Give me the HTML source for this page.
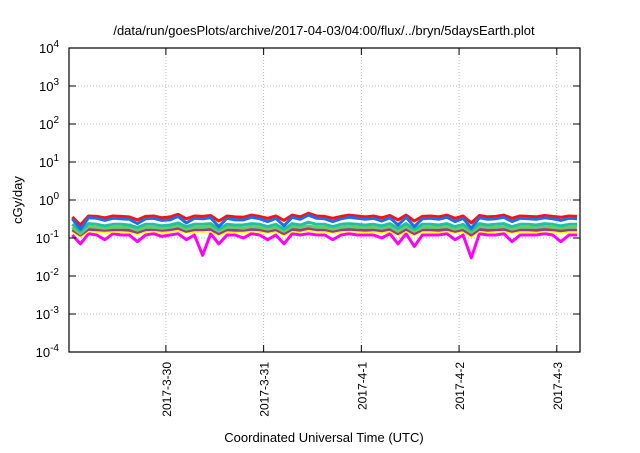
<!DOCTYPE html>
<html><head><meta charset="utf-8"><style>
body{margin:0;background:#fff;font-family:"Liberation Sans",sans-serif}
svg text{font-family:"Liberation Sans",sans-serif;fill:#000}
</style></head><body>
<svg id="c" width="640" height="448">
<text x="324" y="35" text-anchor="middle" font-size="13">/data/run/goesPlots/archive/2017-04-03/04:00/flux/../bryn/5daysEarth.plot</text>
<text transform="translate(22,200) rotate(-90)" text-anchor="middle" font-size="13">cGy/day</text>
<text x="324" y="442" text-anchor="middle" font-size="13">Coordinated Universal Time (UTC)</text>
<g id="grid"></g><g id="series"></g><g id="axes"></g>
</svg>
<script>
const yTickExps=[4,3,2,1,0,-1,-2,-3,-4];
const xTickLabels=["2017-3-30","2017-3-31","2017-4-1","2017-4-2","2017-4-3"];
const xTickHours=[24,48,72,96,120];
const times=[1,3,5,7,9,11,13,15,17,19,21,23,25,27,29,31,33,35,37,39,41,43,45,47,49,51,53,55,57,59,61,63,65,67,69,71,73,75,77,79,81,83,85,87,89,91,93,95,97,99,101,103,105,107,109,111,113,115,117,119,121,123,125];
const redVals=[0.36,0.22,0.38,0.37,0.34,0.38,0.37,0.36,0.3,0.37,0.38,0.34,0.36,0.42,0.32,0.38,0.37,0.39,0.28,0.38,0.36,0.35,0.4,0.37,0.33,0.38,0.29,0.4,0.36,0.45,0.38,0.37,0.33,0.37,0.4,0.38,0.36,0.38,0.34,0.39,0.3,0.4,0.28,0.37,0.38,0.36,0.4,0.33,0.38,0.25,0.39,0.36,0.37,0.4,0.33,0.38,0.37,0.36,0.39,0.37,0.35,0.38,0.37];
const blueVals=[0.32,0.17,0.34,0.33,0.29,0.33,0.32,0.31,0.24,0.32,0.33,0.29,0.3,0.37,0.25,0.33,0.32,0.34,0.2,0.33,0.3,0.3,0.35,0.32,0.27,0.33,0.21,0.35,0.31,0.4,0.33,0.32,0.27,0.32,0.35,0.33,0.31,0.33,0.28,0.34,0.22,0.35,0.2,0.32,0.33,0.31,0.35,0.27,0.33,0.18,0.34,0.31,0.32,0.35,0.27,0.33,0.32,0.31,0.34,0.32,0.29,0.33,0.32];
const tealVals=[0.23,0.15,0.24,0.23,0.21,0.23,0.23,0.22,0.19,0.23,0.23,0.21,0.22,0.25,0.2,0.23,0.23,0.24,0.17,0.23,0.22,0.22,0.24,0.23,0.2,0.23,0.17,0.24,0.22,0.26,0.23,0.23,0.2,0.23,0.24,0.23,0.22,0.23,0.21,0.24,0.18,0.24,0.17,0.23,0.23,0.22,0.24,0.2,0.23,0.16,0.24,0.22,0.23,0.24,0.2,0.23,0.23,0.22,0.24,0.23,0.21,0.23,0.23];
const greenVals=[0.19,0.13,0.2,0.19,0.18,0.19,0.19,0.19,0.16,0.19,0.19,0.18,0.19,0.21,0.17,0.19,0.19,0.2,0.15,0.19,0.19,0.18,0.2,0.19,0.17,0.19,0.15,0.2,0.19,0.21,0.19,0.19,0.17,0.19,0.2,0.19,0.19,0.19,0.18,0.2,0.15,0.2,0.15,0.19,0.19,0.19,0.2,0.17,0.19,0.14,0.2,0.19,0.19,0.2,0.17,0.19,0.19,0.19,0.2,0.19,0.18,0.19,0.19];
const purpleVals=[0.165,0.12,0.17,0.165,0.16,0.165,0.165,0.16,0.14,0.165,0.17,0.16,0.165,0.18,0.15,0.165,0.165,0.17,0.13,0.165,0.16,0.16,0.17,0.165,0.15,0.165,0.13,0.17,0.16,0.18,0.165,0.165,0.15,0.165,0.17,0.165,0.16,0.165,0.155,0.17,0.13,0.17,0.13,0.165,0.165,0.16,0.17,0.15,0.165,0.12,0.17,0.16,0.165,0.17,0.15,0.165,0.165,0.16,0.17,0.165,0.155,0.165,0.165];
const yellowVals=[0.15,0.11,0.155,0.15,0.145,0.15,0.15,0.148,0.13,0.15,0.155,0.145,0.15,0.16,0.14,0.15,0.15,0.155,0.12,0.15,0.148,0.146,0.155,0.15,0.14,0.15,0.12,0.155,0.148,0.16,0.15,0.15,0.14,0.15,0.155,0.15,0.148,0.15,0.142,0.155,0.12,0.155,0.12,0.15,0.15,0.148,0.155,0.14,0.15,0.11,0.155,0.148,0.15,0.155,0.14,0.15,0.15,0.148,0.155,0.15,0.142,0.15,0.15];
const magentaVals=[0.12,0.07,0.13,0.12,0.09,0.13,0.12,0.12,0.08,0.12,0.13,0.11,0.12,0.13,0.09,0.12,0.035,0.13,0.07,0.12,0.12,0.1,0.13,0.12,0.09,0.12,0.07,0.13,0.12,0.13,0.12,0.12,0.09,0.12,0.13,0.12,0.12,0.12,0.1,0.13,0.07,0.13,0.06,0.12,0.12,0.12,0.13,0.09,0.12,0.03,0.13,0.12,0.12,0.13,0.08,0.12,0.12,0.12,0.13,0.12,0.08,0.12,0.12];
const seriesList=[["magenta",magentaVals,"#ff00ff"],["yellow",yellowVals,"#ffff00"],["purple",purpleVals,"#9b3a8a"],["green",greenVals,"#66cc66"],["teal",tealVals,"#20c0a0"],["red",redVals,"#ff1010"],["blue",blueVals,"#1e6ee6"]];
const L=69,R=580,T=48,B=352;
const hMin=0.2,hMax=125.7;
const X=h=>L+(h-hMin)/(hMax-hMin)*(R-L);
const Y=v=>T+(4-Math.log10(v))/8*(B-T);
const NS="http://www.w3.org/2000/svg";
function mk(tag,attrs,parent){const e=document.createElementNS(NS,tag);for(const k in attrs)e.setAttribute(k,attrs[k]);parent.appendChild(e);return e;}
const grid=document.getElementById('grid'),axes=document.getElementById('axes'),ser=document.getElementById('series');
yTickExps.forEach(e=>{const y=Y(Math.pow(10,e));
 if(e<4&&e>-4){const g=mk('line',{x1:L,x2:R,y1:y,y2:y,stroke:'#aaa','stroke-width':0.8,'stroke-dasharray':'1,2'},grid);
 
 }
 const t1=mk('line',{x1:L,x2:L+7,y1:y,y2:y,stroke:'#000'},axes);
 
 
 const t2=mk('line',{x1:R-7,x2:R,y1:y,y2:y,stroke:'#000'},axes);
 
 
 const tx=mk('text',{x:L-10,y:y+5,'text-anchor':'end','font-size':13},axes);
 
 
 tx.innerHTML='10<tspan font-size="10" dy="-6">'+e+'</tspan>';
});
xTickHours.forEach((h,i)=>{const x=X(h);
 const g=mk('line',{x1:x,x2:x,y1:T,y2:B,stroke:'#aaa','stroke-width':0.8,'stroke-dasharray':'1,2'},grid);
 
 
 const t1=mk('line',{x1:x,x2:x,y1:B-7,y2:B,stroke:'#000'},axes);
 
 
 const t2=mk('line',{x1:x,x2:x,y1:T,y2:T+7,stroke:'#000'},axes);
 
 
 const tx=mk('text',{transform:`translate(${x+5},${B+10}) rotate(-90)`,'text-anchor':'end','font-size':12},axes);
 
 
 tx.textContent=xTickLabels[i];
});
const fr=mk('rect',{x:L,y:T,width:R-L,height:B-T,fill:'none',stroke:'#000','stroke-width':1.2},axes);


seriesList.forEach(([n,vals,col])=>{
 const d=vals.map((v,i)=>(i?'L':'M')+X(times[i]).toFixed(1)+','+Y(v).toFixed(1)).join('');
 const p=mk('path',{d:d,fill:'none',stroke:col,'stroke-width':3,'stroke-linejoin':'round'},ser);
 
 
});
</script>
</body></html>
